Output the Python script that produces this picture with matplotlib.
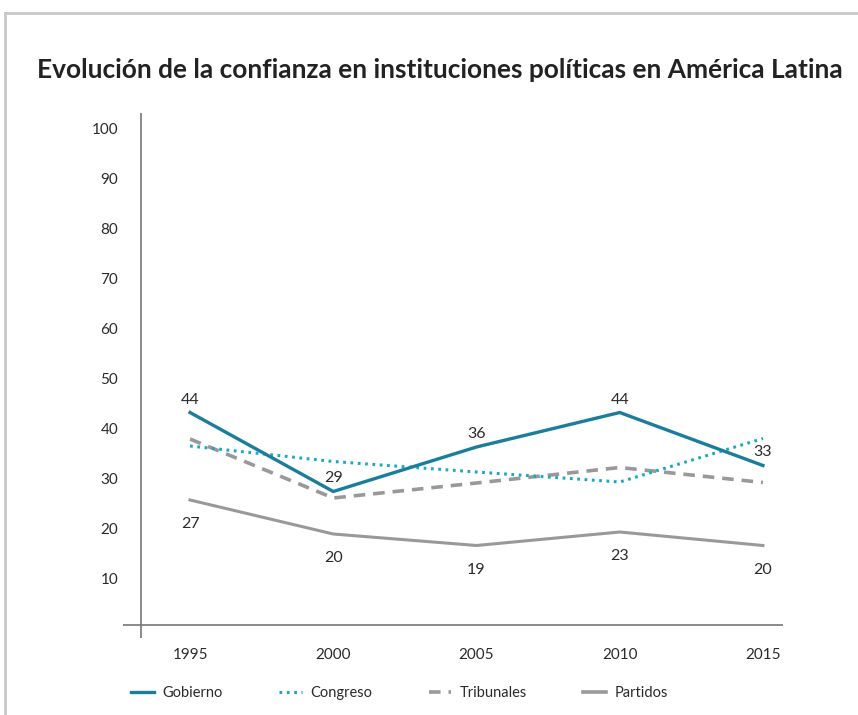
import matplotlib.pyplot as plt
from matplotlib.lines import Line2D

plt.rcParams['font.family'] = ['Lato', 'DejaVu Sans']

# Données
annees = [1995, 2000, 2005, 2010, 2015]
gobierno = [43.5, 27.7, 36.6, 43.5, 32.9]
congreso = [36.8, 33.7, 31.6, 29.6, 38.3]
tribunales = [38.2, 26.4, 29.4, 32.5, 29.5]
partidos = [26.0, 19.2, 16.9, 19.6, 16.9]
etiquettes_gob = ['44', '29', '36', '44', '33']
etiquettes_part = ['27', '20', '19', '23', '20']
yticks = [10, 20, 30, 40, 50, 60, 70, 80, 90, 100]

# Couleurs
c_gob = '#1a7d9e'
c_cong = '#1ba8c6'
c_gris = '#999999'
c_texte = '#2b2b2b'

W, H = 858, 715
fig = plt.figure(figsize=(W/100, H/100), dpi=100)

# cadre gris (haut et gauche)
fig.add_artist(Line2D([5/W, 5/W], [0, 1 - 13/H], color='#c8c8c8', lw=2, transform=fig.transFigure))
fig.add_artist(Line2D([5/W, 1], [1 - 13/H, 1 - 13/H], color='#c8c8c8', lw=2, transform=fig.transFigure))

fig.text(37/W, 1 - 70/H, 'Evolución de la confianza en instituciones políticas en América Latina',
         fontsize=18.9, fontweight='bold', color='#222222', va='center', ha='left')

# axes
x0, x1, ytop, ybot = 123, 783, 113, 638
ax = fig.add_axes([x0/W, 1 - ybot/H, (x1 - x0)/W, (ybot - ytop)/H])
ax.set_xlim(1992.66, 2015.70)
ax.set_ylim(-1.6, 103.4)
for s in ax.spines.values():
    s.set_visible(False)
ax.set_xticks([])
ax.set_yticks([])

ax.axhline(1, color='#777777', lw=1.2)
ax.axvline(1993.29, color='#777777', lw=1.2)

ax.plot(annees, partidos, color=c_gris, lw=2.2, solid_joinstyle='miter')
ax.plot(annees, tribunales, color=c_gris, lw=2.6, linestyle=(0, (3.2, 2.2)))
ax.plot(annees, congreso, color=c_cong, lw=2.2, linestyle=(0, (0.9, 1.5)))
ax.plot(annees, gobierno, color=c_gob, lw=2.4, solid_joinstyle='miter')

# étiquettes de valeurs
for x, y, t in zip(annees, gobierno, etiquettes_gob):
    ax.annotate(t, (x, y), xytext=(0, 6), textcoords='offset pixels',
                ha='center', va='bottom', fontsize=11.5, color=c_texte)
for x, y, t in zip(annees, partidos, etiquettes_part):
    ax.annotate(t, (x, y), xytext=(0, -17), textcoords='offset pixels',
                ha='center', va='top', fontsize=11.5, color=c_texte)

# graduations
for v in yticks:
    ax.text(1993.29 - 23/28.65, v, str(v), ha='right', va='center', fontsize=11, color=c_texte)
for a in annees:
    ax.text(a, -5, str(a), ha='center', va='center', fontsize=11, color=c_texte, clip_on=False)

# légende
poignees = [Line2D([], [], color=c_gob, lw=2.4),
            Line2D([], [], color=c_cong, lw=2.2, linestyle=(0, (0.9, 1.5))),
            Line2D([], [], color=c_gris, lw=2.6, linestyle=(0, (3.2, 2.2))),
            Line2D([], [], color=c_gris, lw=2.6)]
fig.legend(poignees, ['Gobierno', 'Congreso', 'Tribunales', 'Partidos'],
           loc='center left', bbox_to_anchor=(118/W, 1 - 693/H), ncol=4, frameon=False,
           fontsize=10.5, handlelength=1.55, handletextpad=0.6, columnspacing=3.85,
           labelcolor=c_texte)

fig.savefig('out.png', dpi=100)
